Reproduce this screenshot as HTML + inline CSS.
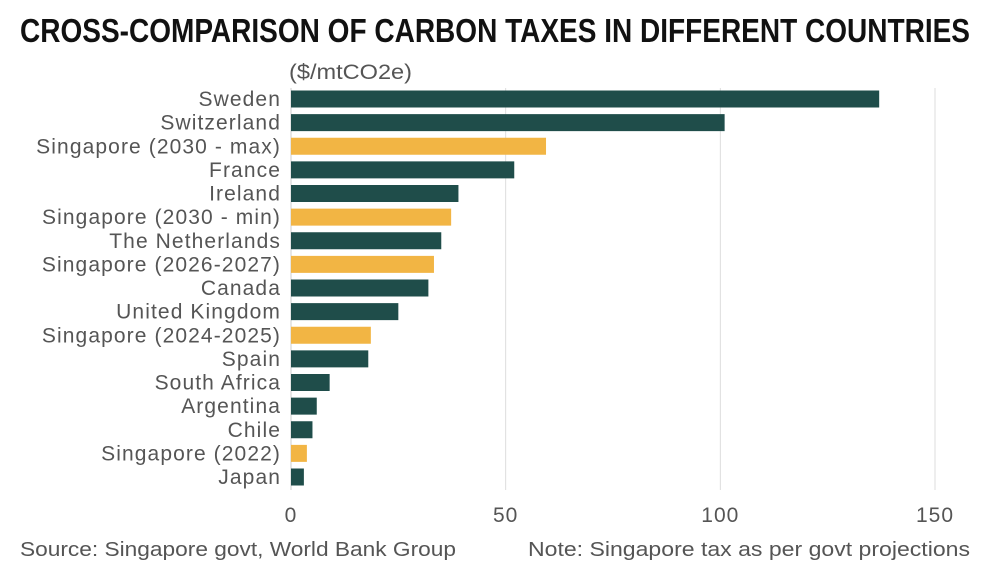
<!DOCTYPE html>
<html><head><meta charset="utf-8"><style>
html,body{margin:0;padding:0;background:#fff;}
svg{display:block;font-family:"Liberation Sans",sans-serif;}
</style></head><body>
<svg id="chart" width="1004" height="576">
<text x="20" y="42" font-size="33" font-weight="bold" fill="#111" textLength="950" lengthAdjust="spacingAndGlyphs">CROSS-COMPARISON OF CARBON TAXES IN DIFFERENT COUNTRIES</text>
<text x="289" y="79" font-size="21" fill="#555" textLength="123" lengthAdjust="spacingAndGlyphs">($/mtCO2e)</text>
<g id="grid"></g><g id="bars"></g><g id="labels"></g><g id="ticks"></g>
<text x="20" y="556" font-size="20" fill="#555" textLength="436" lengthAdjust="spacingAndGlyphs">Source: Singapore govt, World Bank Group</text>
<text x="970" y="556" font-size="20" fill="#555" text-anchor="end" textLength="442" lengthAdjust="spacingAndGlyphs">Note: Singapore tax as per govt projections</text>
</svg>
<script>
const categories=["Sweden","Switzerland","Singapore (2030 - max)","France","Ireland","Singapore (2030 - min)","The Netherlands","Singapore (2026-2027)","Canada","United Kingdom","Singapore (2024-2025)","Spain","South Africa","Argentina","Chile","Singapore (2022)","Japan"];
const values=[137,101,59.4,52,39,37.3,35,33.3,32,25,18.6,18,9,6,5,3.7,3];
const isSingapore=[0,0,1,0,0,1,0,1,0,0,1,0,0,0,0,1,0];
const ticks=[0,50,100,150];
const NS="http://www.w3.org/2000/svg";
const x0=291,pxPer=(935-291)/150;
const xs=v=>x0+v*pxPer;
const y0=99,step=(477-99)/16;
const ys=i=>y0+i*step;
function mk(t,a,p){const e=document.createElementNS(NS,t);for(const k in a)e.setAttribute(k,a[k]);p.appendChild(e);return e;}
const g=document.getElementById('grid'),b=document.getElementById('bars'),l=document.getElementById('labels'),tk=document.getElementById('ticks');
ticks.forEach(t=>{
 const ln=mk('line',{x1:xs(t),x2:xs(t),y1:88,y2:490,stroke:t===0?'#ccc':'#ddd','stroke-width':1},g);
 
 
 const tx=mk('text',{x:xs(t),y:522,'font-size':21,fill:'#555','text-anchor':'middle','letter-spacing':1},tk);
 tx.textContent=t;
 
 
});
categories.forEach((c,i)=>{
 const r=mk('rect',{x:x0,y:ys(i)-8.5,width:xs(values[i])-x0,height:17,fill:isSingapore[i]?'#f2b544':'#1f4d4a'},b);
 
 
 const t=mk('text',{x:281,y:ys(i)+7,'font-size':21,fill:'#555','text-anchor':'end','letter-spacing':1.1},l);
 t.textContent=c;
 
 
});
</script>
</body></html>
